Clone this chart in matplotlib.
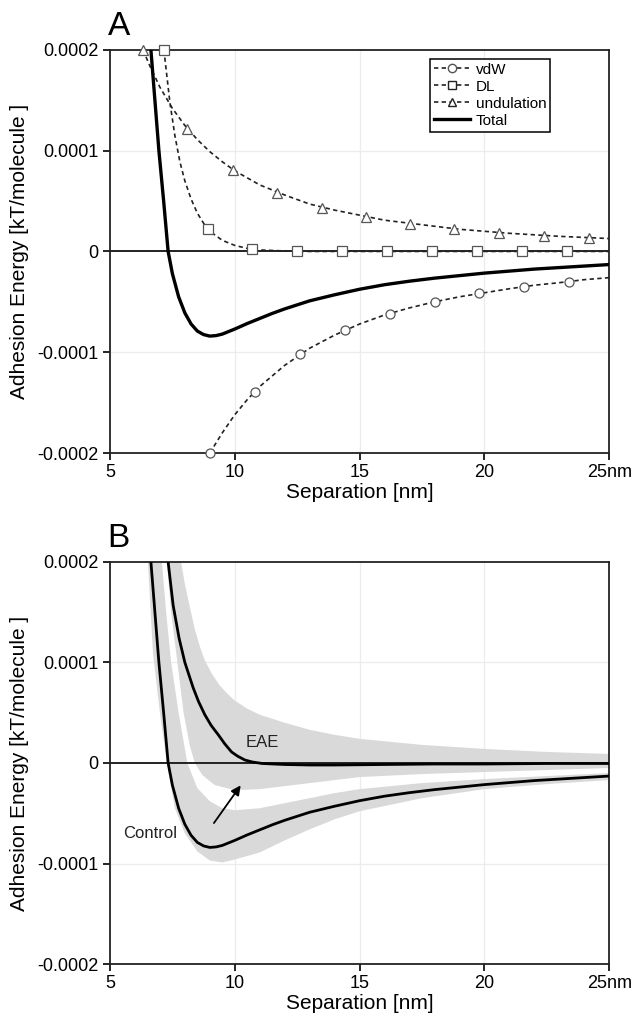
import numpy as np
import matplotlib
matplotlib.use("Agg")
import matplotlib.pyplot as plt
from matplotlib.lines import Line2D

plt.rcParams['font.family'] = ['Liberation Sans', 'DejaVu Sans']

# ---------------- data ----------------
# Panel A: component curves (lines)
vdw_x = [9.0, 9.5, 10.0, 10.5, 11.0, 12.0, 13.0, 14.0, 15.0, 16.0, 17.0, 18.0, 19.0, 20.0, 21.0, 22.0, 23.0, 24.0, 25.0]
vdw_y = [-2.0e-4, -1.80e-4, -1.62e-4, -1.47e-4, -1.34e-4, -1.13e-4, -0.96e-4, -0.83e-4, -0.72e-4, -0.63e-4,
         -0.56e-4, -0.50e-4, -0.45e-4, -0.41e-4, -0.37e-4, -0.335e-4, -0.31e-4, -0.28e-4, -0.26e-4]
vdw_mx = [9.0, 10.8, 12.6, 14.4, 16.2, 18.0, 19.8, 21.6, 23.4]
vdw_my = [-2.0e-4, -1.39e-4, -1.02e-4, -0.78e-4, -0.62e-4, -0.50e-4, -0.41e-4, -0.35e-4, -0.30e-4]

dl_x = [7.16, 7.4, 7.6, 7.8, 8.0, 8.25, 8.5, 8.75, 9.0, 9.5, 10.0, 10.5, 11.0, 12.0, 13.0, 25.0]
dl_y = [2.0e-4, 1.48e-4, 1.15e-4, 0.89e-4, 0.70e-4, 0.52e-4, 0.38e-4, 0.28e-4, 0.20e-4, 0.11e-4,
        0.06e-4, 0.03e-4, 0.015e-4, 0.005e-4, 0.0, 0.0]
dl_mx = [7.16, 8.92, 10.7, 12.5, 14.3, 16.1, 17.9, 19.7, 21.5, 23.3]
dl_my = [2.0e-4, 0.22e-4, 0.02e-4, 0.0, 0.0, 0.0, 0.0, 0.0, 0.0, 0.0]

und_x = [6.32, 6.6, 7.0, 7.5, 8.0, 8.5, 9.0, 9.5, 10.0, 11.0, 12.0, 13.0, 14.0, 15.0, 16.0, 17.0, 18.0,
         19.0, 20.0, 21.0, 22.0, 23.0, 24.0, 25.0]
und_y = [2.0e-4, 1.84e-4, 1.63e-4, 1.42e-4, 1.25e-4, 1.11e-4, 0.99e-4, 0.89e-4, 0.80e-4, 0.66e-4, 0.56e-4,
         0.47e-4, 0.41e-4, 0.36e-4, 0.31e-4, 0.28e-4, 0.25e-4, 0.22e-4, 0.20e-4, 0.18e-4, 0.165e-4,
         0.15e-4, 0.139e-4, 0.128e-4]
und_mx = [6.32, 8.1, 9.93, 11.7, 13.5, 15.25, 17.0, 18.8, 20.6, 22.4, 24.2]
und_my = [2.0e-4, 1.21e-4, 0.81e-4, 0.58e-4, 0.43e-4, 0.34e-4, 0.27e-4, 0.22e-4, 0.18e-4, 0.15e-4, 0.13e-4]

# Total (panel A) == Control (panel B)
tot_x = [6.64, 6.8, 6.96, 7.15, 7.33, 7.5, 7.75, 8.0, 8.25, 8.5, 8.75, 9.0, 9.25, 9.5, 10.0, 10.5, 11.0,
         11.5, 12.0, 12.5, 13.0, 14.0, 15.0, 16.0, 17.0, 18.0, 19.0, 20.0, 21.0, 22.0, 23.0, 24.0, 25.0]
tot_y = [2.0e-4, 1.5e-4, 1.0e-4, 0.5e-4, 0.0, -0.22e-4, -0.45e-4, -0.61e-4, -0.72e-4, -0.79e-4, -0.825e-4,
         -0.84e-4, -0.835e-4, -0.82e-4, -0.77e-4, -0.715e-4, -0.665e-4, -0.615e-4, -0.57e-4, -0.53e-4,
         -0.49e-4, -0.43e-4, -0.375e-4, -0.33e-4, -0.295e-4, -0.265e-4, -0.24e-4, -0.215e-4, -0.195e-4,
         -0.175e-4, -0.16e-4, -0.145e-4, -0.13e-4]

# Panel B: EAE curve
eae_x = [7.33, 7.53, 7.77, 8.0, 8.33, 8.55, 8.8, 9.05, 9.34, 9.6, 9.87, 10.1, 10.4, 10.7, 11.1, 12.0, 13.0,
         14.0, 16.0, 18.0, 20.0, 22.5, 25.0]
eae_y = [2.0e-4, 1.57e-4, 1.24e-4, 1.0e-4, 0.75e-4, 0.61e-4, 0.48e-4, 0.375e-4, 0.28e-4, 0.19e-4, 0.11e-4,
         0.07e-4, 0.03e-4, 0.01e-4, -0.005e-4, -0.015e-4, -0.02e-4, -0.02e-4, -0.015e-4, -0.01e-4,
         -0.01e-4, -0.005e-4, -0.005e-4]

# Panel B: shaded ranges (upper and lower edges)
eae_up_x = [7.85, 8.0, 8.2, 8.4, 8.6, 8.8, 9.1, 9.4, 9.7, 10.0, 10.5, 11.0, 12.0, 13.0, 14.0, 15.0, 17.5,
            20.0, 22.5, 25.0]
eae_up_y = [2.0e-4, 1.78e-4, 1.55e-4, 1.33e-4, 1.16e-4, 1.02e-4, 0.88e-4, 0.77e-4, 0.69e-4, 0.62e-4,
            0.54e-4, 0.48e-4, 0.40e-4, 0.33e-4, 0.28e-4, 0.24e-4, 0.18e-4, 0.14e-4, 0.11e-4, 0.09e-4]
eae_lo_x = [7.28, 7.45, 7.7, 7.95, 8.2, 8.4, 8.7, 9.2, 10.0, 11.0, 12.0, 13.0, 14.0, 15.0, 17.5, 20.0, 22.5, 25.0]
eae_lo_y = [2.0e-4, 1.5e-4, 1.0e-4, 0.5e-4, 0.17e-4, 0.0, -0.12e-4, -0.22e-4, -0.27e-4, -0.26e-4, -0.23e-4,
            -0.20e-4, -0.17e-4, -0.14e-4, -0.11e-4, -0.09e-4, -0.07e-4, -0.05e-4]

ctl_up_x = [7.08, 7.25, 7.45, 7.75, 8.1, 8.5, 9.0, 9.5, 10.0, 11.0, 12.0, 13.0, 14.0, 15.0, 17.5, 20.0, 22.5, 25.0]
ctl_up_y = [2.0e-4, 1.5e-4, 1.0e-4, 0.5e-4, 0.0, -0.25e-4, -0.38e-4, -0.45e-4, -0.47e-4, -0.45e-4, -0.40e-4,
            -0.35e-4, -0.30e-4, -0.26e-4, -0.20e-4, -0.16e-4, -0.13e-4, -0.10e-4]
ctl_lo_x = [6.52, 6.72, 7.0, 7.28, 7.6, 8.0, 8.5, 9.0, 9.5, 10.0, 11.0, 12.0, 13.0, 14.0, 15.0, 17.5, 20.0, 22.5, 25.0]
ctl_lo_y = [2.0e-4, 1.1e-4, 0.5e-4, 0.0, -0.45e-4, -0.70e-4, -0.88e-4, -0.97e-4, -0.99e-4, -0.96e-4, -0.89e-4,
            -0.77e-4, -0.66e-4, -0.56e-4, -0.48e-4, -0.35e-4, -0.26e-4, -0.21e-4, -0.17e-4]

arrow_start = (9.1, -0.62e-4)
arrow_end = (10.3, -0.20e-4)

xticks = [5, 10, 15, 20, 25]
xticklabels = ['5', '10', '15', '20', '25nm']
yticks = [-2e-4, -1e-4, 0, 1e-4, 2e-4]
yticklabels = ['-0.0002', '-0.0001', '0', '0.0001', '0.0002']

# ---------------- figure ----------------
fig = plt.figure(figsize=(6.32, 10.18), dpi=100)
axA = fig.add_axes([0.174, 0.555, 0.790, 0.396])
axB = fig.add_axes([0.174, 0.053, 0.790, 0.395])

GRID = '#ececec'


def style(ax):
    ax.set_xlim(5, 25)
    ax.set_ylim(-2e-4, 2e-4)
    ax.set_xticks(xticks)
    ax.set_xticklabels(xticklabels)
    ax.set_yticks(yticks)
    ax.set_yticklabels(yticklabels)
    ax.tick_params(direction='out', length=5, width=1.2, labelsize=13, top=False, right=False, pad=3)
    for s in ax.spines.values():
        s.set_linewidth(1.3)
        s.set_color('#222222')
    for xv in [10, 15, 20]:
        ax.axvline(xv, color=GRID, lw=0.9, zorder=0)
    for yv in [-1e-4, 1e-4]:
        ax.axhline(yv, color=GRID, lw=0.9, zorder=0)
    ax.axhline(0, color='#222222', lw=1.4, zorder=1)
    ax.set_xlabel('Separation [nm]', fontsize=15, labelpad=1)
    ax.set_ylabel('Adhesion Energy [kT/molecule ]', fontsize=15)
    ax.yaxis.set_label_coords(-0.163, 0.5)


# ---- Panel A ----
style(axA)
dash = (0, (2.6, 2.0))
mk = dict(mfc='white', mec='#555555', mew=0.9, ms=6.5, ls='none', zorder=4, clip_on=False)
axA.plot(vdw_x, vdw_y, color='#222222', lw=1.2, ls=dash, zorder=3)
axA.plot(vdw_mx, vdw_my, marker='o', **mk)
axA.plot(dl_x, dl_y, color='#222222', lw=1.2, ls=dash, zorder=3)
axA.plot(dl_mx, dl_my, marker='s', **mk)
axA.plot(und_x, und_y, color='#222222', lw=1.2, ls=dash, zorder=3)
axA.plot(und_mx, und_my, marker='^', **mk)
axA.plot(tot_x, tot_y, color='black', lw=2.4, zorder=5)

handles = [
    Line2D([], [], color='#222222', lw=1.2, ls=dash, marker='o', mfc='white', mec='#555555', ms=6),
    Line2D([], [], color='#222222', lw=1.2, ls=dash, marker='s', mfc='white', mec='#222222', ms=6),
    Line2D([], [], color='#222222', lw=1.2, ls=dash, marker='^', mfc='white', mec='#222222', ms=6),
    Line2D([], [], color='black', lw=2.4),
]
leg = axA.legend(handles, ['vdW', 'DL', 'undulation', 'Total'], loc='upper left',
                 bbox_to_anchor=(0.641, 0.978), borderaxespad=0, fontsize=11,
                 handlelength=2.4, handletextpad=0.35, labelspacing=0.2, borderpad=0.25,
                 fancybox=False, framealpha=1, edgecolor='black')
leg.get_frame().set_linewidth(1.1)
axA.text(-0.005, 1.02, 'A', transform=axA.transAxes, fontsize=24, ha='left', va='bottom')

# ---- Panel B ----
style(axB)
BAND = '#d9d9d9'
axB.fill(np.concatenate([eae_up_x, eae_lo_x[::-1]]), np.concatenate([eae_up_y, eae_lo_y[::-1]]),
         color=BAND, lw=0, zorder=0.5)
axB.fill(np.concatenate([ctl_up_x, ctl_lo_x[::-1]]), np.concatenate([ctl_up_y, ctl_lo_y[::-1]]),
         color=BAND, lw=0, zorder=0.5)
axB.plot(eae_x, eae_y, color='black', lw=2.0, zorder=5)
axB.plot(tot_x, tot_y, color='black', lw=2.0, zorder=5)
axB.annotate('', xy=arrow_end, xytext=arrow_start,
             arrowprops=dict(arrowstyle='-|>', color='black', lw=1.3, mutation_scale=14), zorder=6)
axB.text(11.1, 0.2e-4, 'EAE', fontsize=12, ha='center', va='center', color='#222222')
axB.text(6.6, -0.7e-4, 'Control', fontsize=12, ha='center', va='center', color='#222222')
axB.text(-0.005, 1.02, 'B', transform=axB.transAxes, fontsize=24, ha='left', va='bottom')

fig.savefig('out.png', dpi=100)
